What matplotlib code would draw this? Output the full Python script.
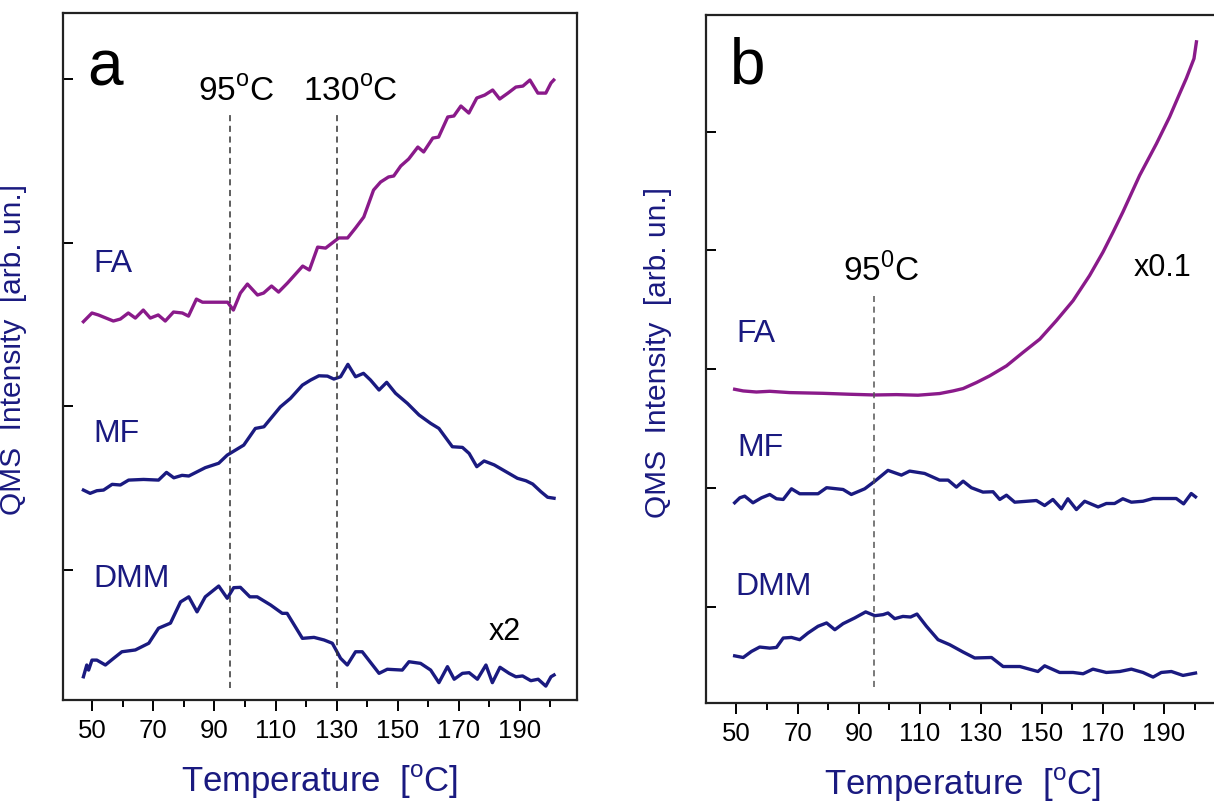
import matplotlib
matplotlib.use("Agg")
import matplotlib.pyplot as plt
import numpy as np

plt.rcParams['font.family'] = ['Liberation Sans', 'DejaVu Sans']
plt.rcParams['mathtext.fontset'] = 'custom'
plt.rcParams['mathtext.rm'] = 'Liberation Sans'

NAVY = '#1a1a80'
PURPLE = '#8a1a8a'

# ---- panel a ----
t_a_fa = [47.1, 49.9, 52.0, 56.9, 59.2, 61.8, 64.1, 66.7, 69.0, 71.6, 73.9, 76.6, 79.5, 81.5,
          84.1, 86.1, 94.3, 96.2, 98.5, 100.8, 104.1, 106.1, 108.7, 111.0, 113.9, 118.9, 121.1,
          123.8, 126.4, 130.7, 133.6, 136.2, 138.9, 142.1, 144.4, 147.0, 148.7, 151.0, 153.6,
          156.6, 158.5, 161.5, 163.4, 166.4, 168.4, 170.7, 173.3, 175.9, 178.5, 181.1, 183.4,
          186.1, 188.7, 191.0, 193.3, 195.9, 198.5, 200.2, 201.1]
fa_a = [25.16, 25.69, 25.57, 25.20, 25.32, 25.69, 25.38, 25.87, 25.38, 25.57, 25.20, 25.75, 25.69,
        25.50, 26.54, 26.35, 26.35, 25.87, 26.91, 27.46, 26.79, 26.91, 27.34, 26.97, 27.52, 28.56,
        28.32, 29.72, 29.66, 30.28, 30.28, 30.89, 31.56, 33.21, 33.70, 34.01, 34.07, 34.68, 35.11,
        35.84, 35.54, 36.39, 36.45, 37.68, 37.74, 38.35, 37.92, 38.84, 39.02, 39.33, 38.78, 39.14,
        39.51, 39.57, 39.94, 39.14, 39.14, 39.76, 39.94]

t_a_mf = [47.1, 49.3, 51.5, 53.7, 56.5, 59.2, 61.9, 66.8, 71.7, 74.3, 76.7, 79.4, 81.6, 87.0, 91.4,
          94.2, 99.6, 103.4, 106.2, 111.6, 114.9, 118.8, 121.5, 124.2, 127.0, 129.1, 131.3, 133.7,
          136.2, 138.8, 141.1, 143.9, 146.4, 149.3, 153.2, 157.0, 160.8, 163.5, 167.9, 171.2,
          173.4, 175.9, 178.3, 181.6, 185.4, 189.2, 192.0, 194.2, 196.9, 199.1, 201.2]
mf_a = [14.86, 14.66, 14.82, 14.86, 15.21, 15.17, 15.47, 15.51, 15.47, 15.94, 15.61, 15.76, 15.72,
        16.23, 16.50, 17.00, 17.61, 18.63, 18.73, 19.95, 20.47, 21.28, 21.59, 21.85, 21.83, 21.65,
        21.79, 22.55, 21.79, 22.00, 21.59, 20.98, 21.45, 20.78, 20.16, 19.45, 18.94, 18.63, 17.51,
        17.47, 17.10, 16.29, 16.64, 16.40, 15.99, 15.58, 15.43, 15.23, 14.76, 14.42, 14.36]

t_a_dmm = [47.1, 48.2, 48.8, 49.9, 51.5, 54.3, 57.0, 59.7, 64.1, 68.5, 71.7, 75.6, 78.9, 81.6, 84.3,
           87.0, 91.4, 94.2, 96.3, 98.5, 101.6, 104.0, 108.4, 112.2, 113.8, 118.8, 122.6, 125.9,
           128.6, 131.3, 133.5, 136.2, 138.4, 143.9, 146.6, 151.5, 153.7, 157.5, 160.8, 163.5,
           166.3, 168.5, 171.2, 173.4, 176.1, 178.9, 181.0, 183.5, 186.5, 188.7, 190.9, 193.6,
           196.0, 198.5, 200.2, 201.2]
dmm_a = [3.44, 4.16, 3.85, 4.46, 4.46, 4.16, 4.57, 4.97, 5.08, 5.49, 6.41, 6.72, 8.02, 8.33, 7.41,
         8.33, 8.99, 8.24, 8.89, 8.91, 8.33, 8.33, 7.83, 7.32, 7.32, 5.79, 5.85, 5.69, 5.49, 4.57,
         4.16, 4.97, 4.97, 3.65, 3.90, 3.85, 4.36, 4.26, 3.85, 3.08, 4.06, 3.29, 3.65, 3.69, 3.29,
         4.16, 3.08, 4.02, 3.65, 3.44, 3.49, 3.20, 3.29, 2.87, 3.44, 3.55]

# ---- panel b ----
t_b_fa = [49.4, 52.2, 56.5, 60.9, 67.4, 78.3, 87.1, 95.3, 102.4, 109.4, 116.5, 120.9, 124.2, 128.6,
          132.9, 138.4, 143.8, 149.3, 154.7, 160.2, 165.6, 170.0, 173.3, 176.5, 182.0, 187.5,
          191.8, 195.1, 197.3, 199.8, 200.6]
fa_b = [28.31, 28.17, 28.08, 28.14, 28.03, 27.97, 27.89, 27.83, 27.86, 27.81, 27.95, 28.17, 28.37,
        28.88, 29.44, 30.28, 31.41, 32.53, 34.08, 35.77, 37.88, 39.86, 41.54, 43.23, 46.32, 48.99,
        51.24, 53.21, 54.50, 56.16, 57.57]

t_b_mf = [49.4, 51.1, 52.7, 55.4, 58.2, 60.9, 63.1, 65.3, 68.0, 70.7, 76.7, 79.5, 84.9, 87.6, 92.0,
          95.3, 99.6, 104.0, 106.7, 111.6, 116.5, 119.3, 122.0, 124.2, 126.9, 130.7, 134.0, 136.2,
          138.4, 141.1, 148.2, 150.9, 153.6, 156.4, 158.5, 161.3, 164.0, 168.4, 171.1, 173.8,
          176.5, 179.3, 183.1, 186.4, 194.0, 196.4, 198.9, 200.3]
mf_b = [18.75, 19.17, 19.31, 18.75, 19.17, 19.45, 19.09, 19.03, 19.93, 19.51, 19.51, 20.02, 19.87,
        19.45, 19.93, 20.57, 21.48, 21.08, 21.42, 21.22, 20.66, 20.66, 20.07, 20.57, 20.02, 19.65,
        19.68, 19.03, 19.39, 18.80, 18.94, 18.52, 19.03, 18.24, 19.09, 18.18, 18.88, 18.40, 18.69,
        18.69, 19.09, 18.80, 18.88, 19.11, 19.11, 18.66, 19.53, 19.25]

t_b_dmm = [49.4, 52.2, 54.9, 57.6, 60.9, 63.1, 65.3, 68.0, 70.7, 73.4, 76.7, 79.5, 82.2, 84.9, 88.7,
           92.3, 95.3, 98.0, 99.6, 101.8, 104.5, 107.0, 109.1, 112.2, 116.0, 119.8, 124.2, 128.0,
           133.5, 137.3, 142.8, 148.7, 150.9, 155.8, 160.2, 163.5, 166.7, 171.1, 175.5, 179.3,
           183.1, 186.4, 189.1, 192.4, 196.2, 200.3]
dmm_b = [5.86, 5.72, 6.23, 6.60, 6.51, 6.57, 7.36, 7.41, 7.22, 7.78, 8.35, 8.63, 8.06, 8.57, 9.05,
         9.56, 9.24, 9.33, 9.47, 8.99, 9.18, 9.13, 9.38, 8.35, 7.22, 6.80, 6.18, 5.68, 5.72, 4.96,
         4.96, 4.54, 5.02, 4.46, 4.46, 4.35, 4.74, 4.46, 4.54, 4.74, 4.46, 4.07, 4.46, 4.54, 4.21,
         4.41]

major_ticks = [50, 70, 90, 110, 130, 150, 170, 190]
minor_ticks = [60, 80, 100, 120, 140, 160, 180, 200]


def style_axes(ax, yticks):
    for s in ax.spines.values():
        s.set_linewidth(1.6)
        s.set_color('#222222')
    ax.set_xticks(major_ticks)
    ax.set_xticks(minor_ticks, minor=True)
    ax.set_yticks(yticks)
    ax.set_yticklabels([])
    ax.tick_params(axis='x', which='major', direction='out', length=8, width=1.4,
                   labelsize=18.5, pad=6, top=False)
    ax.tick_params(axis='x', which='minor', direction='out', length=5, width=1.4, top=False)
    ax.tick_params(axis='y', direction='in', length=7, width=1.4, right=False)
    ax.set_xlabel('Temperature  [$^{\\rm o}$C]', fontsize=25, color=NAVY, labelpad=14)
    ax.set_ylabel('QMS  Intensity  [arb. un.]', fontsize=21.5, color=NAVY)


fig = plt.figure(figsize=(12.14, 8.07), dpi=100)
ax_a = fig.add_axes([0.0516, 0.1326, 0.4234, 0.8513])
ax_b = fig.add_axes([0.5815, 0.1289, 0.4234, 0.8525])

# panel a
ax_a.plot(t_a_fa, fa_a, color=PURPLE, lw=2.4)
ax_a.plot(t_a_mf, mf_a, color=NAVY, lw=2.4)
ax_a.plot(t_a_dmm, dmm_a, color=NAVY, lw=2.4)
for xv in [95, 130]:
    ax_a.plot([xv, xv], [2.75, 37.9], color='#333333', lw=1.1, ls=(0, (4, 3)))
ax_a.set_xlim(40.3, 208.6)
ax_a.set_ylim(2.02, 44.04)
style_axes(ax_a, [10, 20, 30, 40])
ax_a.yaxis.set_label_coords(-0.07, 0.51)

ax_a.text(48.3, 39.6, 'a', fontsize=46, color='black')
ax_a.text(97.0, 38.7, '95$^{\\rm o}$C', fontsize=24, ha='center', color='black')
ax_a.text(134.4, 38.7, '130$^{\\rm o}$C', fontsize=24, ha='center', color='black')
ax_a.text(185.1, 5.69, 'x2', fontsize=22, ha='center', color='black')
ax_a.text(50.2, 28.2, 'FA', fontsize=23, color=NAVY)
ax_a.text(50.2, 17.8, 'MF', fontsize=23, color=NAVY)
ax_a.text(50.2, 8.93, 'DMM', fontsize=23, color=NAVY)

# panel b
ax_b.plot(t_b_fa, fa_b, color=PURPLE, lw=2.4)
ax_b.plot(t_b_mf, mf_b, color=NAVY, lw=2.4)
ax_b.plot(t_b_dmm, dmm_b, color=NAVY, lw=2.4)
ax_b.plot([95, 95], [3.25, 36.16], color='#555555', lw=1.1, ls=(0, (4, 3)))
ax_b.set_xlim(40.0, 208.3)
ax_b.set_ylim(1.89, 59.83)
style_axes(ax_b, [10, 20, 30, 40, 50])
ax_b.yaxis.set_label_coords(-0.066, 0.51)

ax_b.text(47.8, 54.05, 'b', fontsize=46, color='black')
ax_b.text(97.4, 37.43, '95$^{\\rm 0}$C', fontsize=24, ha='center', color='black')
ax_b.text(189.5, 37.85, 'x0.1', fontsize=22, ha='center', color='black')
ax_b.text(50.1, 32.28, 'FA', fontsize=23, color=NAVY)
ax_b.text(50.3, 22.66, 'MF', fontsize=23, color=NAVY)
ax_b.text(49.7, 11.01, 'DMM', fontsize=23, color=NAVY)

fig.savefig('out.png', dpi=100)
